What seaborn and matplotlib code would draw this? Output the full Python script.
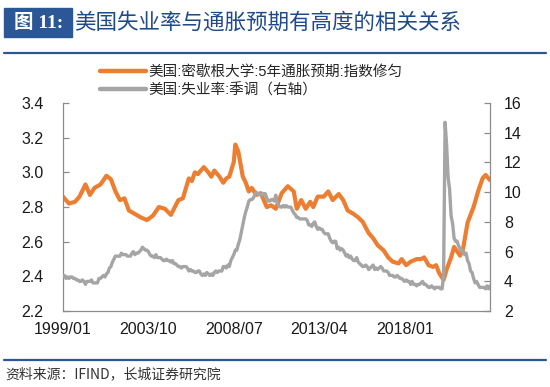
import numpy as np
import pandas as pd
import seaborn as sns
import matplotlib.pyplot as plt
from matplotlib.lines import Line2D
from matplotlib.patches import Rectangle

# Data
# Michigan 5y inflation expectation (smoothed), left axis
orange_dates = ['1999/01', '1999/05', '1999/09', '1999/12', '2000/04', '2000/07', '2000/10',
                '2001/02', '2001/06', '2001/09', '2001/12', '2002/03', '2002/06', '2002/09',
                '2003/01', '2003/05', '2003/09', '2004/01', '2004/05', '2004/09', '2005/01',
                '2005/06', '2005/09', '2006/01', '2006/03', '2006/05', '2006/07', '2006/11',
                '2007/02', '2007/04', '2007/06', '2007/09', '2007/12', '2008/02', '2008/04',
                '2008/07', '2008/08', '2008/10', '2009/01', '2009/03', '2009/05', '2009/07',
                '2009/10', '2010/01', '2010/05', '2010/08', '2010/11', '2011/03', '2011/07',
                '2011/11', '2012/01', '2012/04', '2012/07', '2012/10', '2012/12', '2013/03',
                '2013/07', '2013/10', '2014/01', '2014/05', '2014/08', '2014/11', '2015/03',
                '2015/06', '2015/09', '2016/01', '2016/04', '2016/07', '2016/11', '2017/02',
                '2017/05', '2017/09', '2017/11', '2018/02', '2018/05', '2018/09', '2018/12',
                '2019/02', '2019/05', '2019/08', '2019/10', '2019/12', '2020/03', '2020/05',
                '2020/08', '2020/10', '2021/02', '2021/04', '2021/07', '2021/11', '2022/02',
                '2022/05', '2022/07', '2022/10']
orange_vals = [2.86, 2.82, 2.83, 2.86, 2.93, 2.87, 2.91,
               2.93, 2.98, 2.96, 2.89, 2.84, 2.85, 2.78,
               2.76, 2.74, 2.725, 2.75, 2.80, 2.79, 2.755,
               2.84, 2.85, 2.965, 2.95, 3.00, 2.99, 3.03,
               3.00, 2.975, 3.01, 2.98, 2.94, 2.965, 2.975,
               3.06, 3.16, 3.12, 2.975, 2.94, 2.89, 2.91,
               2.87, 2.88, 2.80, 2.81, 2.79, 2.88, 2.92,
               2.89, 2.79, 2.84, 2.79, 2.83, 2.80, 2.86,
               2.86, 2.89, 2.84, 2.875, 2.84, 2.78, 2.76,
               2.74, 2.715, 2.65, 2.62, 2.58, 2.55, 2.51,
               2.485, 2.475, 2.50, 2.465, 2.485, 2.50, 2.50,
               2.51, 2.465, 2.455, 2.465, 2.42, 2.38, 2.44,
               2.51, 2.57, 2.52, 2.56, 2.71, 2.80, 2.89,
               2.965, 2.985, 2.955]

# US unemployment rate, SA, monthly from 1999/01 (right axis)
unemp = [4.3, 4.4, 4.2, 4.3, 4.2, 4.3, 4.3, 4.2, 4.2, 4.1, 4.1, 4.0,
         4.0, 4.1, 4.0, 3.8, 4.0, 4.0, 4.0, 4.1, 3.9, 3.9, 3.9, 3.9,
         4.2, 4.2, 4.3, 4.4, 4.3, 4.5, 4.6, 4.9, 5.0, 5.3, 5.5, 5.7,
         5.7, 5.7, 5.7, 5.9, 5.8, 5.8, 5.8, 5.7, 5.7, 5.7, 5.9, 6.0,
         5.8, 5.9, 5.9, 6.0, 6.1, 6.3, 6.2, 6.1, 6.1, 6.0, 5.8, 5.7,
         5.7, 5.6, 5.8, 5.6, 5.6, 5.6, 5.5, 5.4, 5.4, 5.5, 5.4, 5.4,
         5.3, 5.4, 5.2, 5.2, 5.1, 5.0, 5.0, 4.9, 5.0, 5.0, 5.0, 4.9,
         4.7, 4.8, 4.7, 4.7, 4.6, 4.6, 4.7, 4.7, 4.5, 4.4, 4.5, 4.4,
         4.6, 4.5, 4.4, 4.5, 4.4, 4.6, 4.7, 4.6, 4.7, 4.7, 4.7, 5.0,
         5.0, 4.9, 5.1, 5.0, 5.4, 5.6, 5.8, 6.1, 6.1, 6.5, 6.8, 7.3,
         7.8, 8.3, 8.7, 9.0, 9.4, 9.5, 9.5, 9.6, 9.8, 10.0, 9.9, 9.9,
         9.8, 9.8, 9.9, 9.9, 9.6, 9.4, 9.4, 9.5, 9.5, 9.4, 9.8, 9.3,
         9.1, 9.0, 9.0, 9.1, 9.0, 9.1, 9.0, 9.0, 9.0, 8.8, 8.6, 8.5,
         8.3, 8.3, 8.2, 8.2, 8.2, 8.2, 8.2, 8.1, 7.8, 7.8, 7.7, 7.9,
         8.0, 7.7, 7.5, 7.6, 7.5, 7.5, 7.3, 7.2, 7.2, 7.2, 6.9, 6.7,
         6.6, 6.7, 6.7, 6.2, 6.3, 6.1, 6.2, 6.1, 5.9, 5.7, 5.8, 5.6,
         5.7, 5.5, 5.4, 5.4, 5.6, 5.3, 5.2, 5.1, 5.0, 5.0, 5.1, 5.0,
         4.8, 4.9, 5.0, 5.1, 4.8, 4.9, 4.8, 4.9, 5.0, 4.9, 4.7, 4.7,
         4.7, 4.6, 4.4, 4.4, 4.4, 4.3, 4.3, 4.4, 4.3, 4.2, 4.2, 4.1,
         4.0, 4.1, 4.0, 4.0, 3.8, 4.0, 3.8, 3.8, 3.7, 3.8, 3.8, 3.9,
         4.0, 3.8, 3.8, 3.7, 3.6, 3.6, 3.7, 3.6, 3.5, 3.6, 3.6, 3.6,
         3.5, 3.5, 4.4, 14.7, 13.2, 11.0, 10.2, 8.4, 7.9, 6.9, 6.7, 6.7,
         6.4, 6.2, 6.0, 6.1, 5.8, 5.9, 5.4, 5.2, 4.7, 4.6, 4.2, 3.9,
         4.0, 3.8, 3.6, 3.6, 3.6, 3.6, 3.5, 3.7, 3.5, 3.7]

xtick_labels = ['1999/01', '2003/10', '2008/07', '2013/04', '2018/01']
legend_labels = ['美国:密歇根大学:5年通胀预期:指数修匀', '美国:失业率:季调（右轴）']


def month_index(s):
    y, m = s.split('/')
    return (int(y) - 1999) * 12 + int(m) - 1


orange_x = [month_index(d) for d in orange_dates]
unemp_x = list(range(len(unemp)))
tick_pos = [month_index(t) for t in xtick_labels]

sns.set_style('white')
plt.rcParams['font.family'] = ['Liberation Sans', 'Noto Sans CJK SC']

ORANGE = '#ED7D31'
GREY = '#A5A5A5'
NAVY = '#2B5796'
AXC = '#8C8C8C'

fig = plt.figure(figsize=(5.5, 3.87), dpi=100)
ax = fig.add_axes([0.1145, 0.196, 0.7765, 0.538])
ax2 = ax.twinx()

sns.lineplot(x=orange_x, y=orange_vals, ax=ax, color=ORANGE, linewidth=3.0)
sns.lineplot(x=unemp_x, y=unemp, ax=ax2, color=GREY, linewidth=2.4)

ax.set_xlim(0, len(unemp) - 1)
ax.set_ylim(2.2, 3.4)
ax.set_yticks(np.arange(2.2, 3.41, 0.2))
ax.set_yticklabels([f'{v:.1f}' for v in np.arange(2.2, 3.41, 0.2)])
ax2.set_ylim(2, 16)
ax2.set_yticks(range(2, 17, 2))
ax.set_xticks(tick_pos)
ax.set_xticklabels(xtick_labels)

for a in (ax, ax2):
    for side in ('top', 'left', 'right', 'bottom'):
        a.spines[side].set_visible(False)
ax.spines['left'].set_visible(True)
ax.spines['bottom'].set_visible(True)
ax2.spines['right'].set_visible(True)
for sp in (ax.spines['left'], ax.spines['bottom'], ax2.spines['right']):
    sp.set_color(AXC)
    sp.set_linewidth(0.9)

ax.tick_params(axis='both', direction='in', length=4, width=0.9, color=AXC,
               labelsize=11.5, labelcolor='#1a1a1a', pad=6)
ax.tick_params(axis='x', pad=8)
ax.tick_params(axis='y', left=True, pad=14)
ax2.tick_params(axis='y', direction='in', length=4, width=0.9, color=AXC,
                labelsize=11.5, labelcolor='#1a1a1a', pad=10, right=True)
ax.set_xlabel('')
ax.set_ylabel('')
ax2.set_ylabel('')

# legend
handles = [Line2D([], [], color=ORANGE, linewidth=3.2),
           Line2D([], [], color=GREY, linewidth=3.2)]
fig.legend(handles, legend_labels, loc='upper left', bbox_to_anchor=(0.172, 0.848),
           frameon=False, fontsize=10.5, handlelength=3.1, handletextpad=0.2,
           labelspacing=0.3, borderaxespad=0)

# title block
fig.patches.append(Rectangle((0.008, 1 - 37 / 387), 0.123, 29 / 387,
                             transform=fig.transFigure, color=NAVY, zorder=1))
fig.text(0.07, 1 - 23 / 387, '图 11:', color='white', fontsize=14, fontweight='bold',
         ha='center', va='center', family=['Liberation Serif', 'Noto Sans CJK SC'])
fig.text(0.135, 1 - 23 / 387, '美国失业率与通胀预期有高度的相关关系', color='#1F4A8A',
         fontsize=15.5, ha='left', va='center', family=['Noto Sans CJK SC'])
fig.add_artist(Line2D([0.008, 0.992], [1 - 53 / 387] * 2, transform=fig.transFigure,
                      color=NAVY, linewidth=1.6))
fig.add_artist(Line2D([0.008, 0.992], [1 - 360 / 387] * 2, transform=fig.transFigure,
                      color=NAVY, linewidth=1.6))
fig.text(0.01, 1 - 374 / 387, '资料来源：IFIND，长城证券研究院', color='#333333',
         fontsize=10, style='italic', ha='left', va='center',
         family=['Noto Sans CJK SC'])

fig.savefig('out.png', dpi=100)
